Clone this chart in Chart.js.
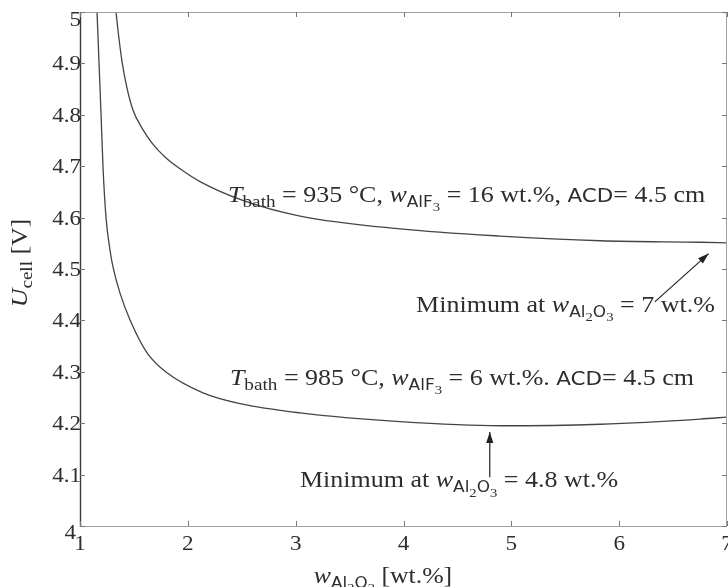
<!DOCTYPE html>
<html><head><meta charset="utf-8">
<script src="https://cdn.jsdelivr.net/npm/chart.js@4.4.0/dist/chart.umd.min.js"></script>
<style>html,body{margin:0;padding:0;background:#fff;}#wrap{width:728px;height:587px;}</style>
</head><body><div id="wrap"><canvas id="c" width="728" height="587"></canvas></div>
<script>
// ---- data ----
const xTicks = [1, 2, 3, 4, 5, 6, 7];
const xTickLabels = ['1', '2', '3', '4', '5', '6', '7'];
const yTicks = [4, 4.1, 4.2, 4.3, 4.4, 4.5, 4.6, 4.7, 4.8, 4.9, 5];
const yTickLabels = ['4', '4.1', '4.2', '4.3', '4.4', '4.5', '4.6', '4.7', '4.8', '4.9', '5'];
// T_bath = 935 °C, w_AlF3 = 16 wt.%
const w935 = [1.334, 1.352, 1.390, 1.436, 1.492, 1.575, 1.668, 1.788, 1.928, 2.113, 2.503, 3.041, 3.968, 4.896, 5.824, 6.751, 7.0];
const u935 = [5.000, 4.965, 4.903, 4.852, 4.809, 4.774, 4.745, 4.718, 4.695, 4.670, 4.634, 4.603, 4.578, 4.564, 4.555, 4.552, 4.551];
// T_bath = 985 °C, w_AlF3 = 6 wt.%
const w985 = [1.158, 1.176, 1.195, 1.213, 1.241, 1.278, 1.306, 1.371, 1.464, 1.622, 1.807, 2.141, 2.484, 3.041, 3.968, 4.896, 5.824, 6.751, 7.0];
const u985 = [5.000, 4.903, 4.802, 4.700, 4.601, 4.537, 4.504, 4.453, 4.401, 4.337, 4.298, 4.259, 4.238, 4.220, 4.203, 4.195, 4.198, 4.208, 4.212];

const toPts = (xs, ys) => xs.map((x, i) => ({x: x, y: ys[i]}));

const SERIF = '"Liberation Serif", "DejaVu Serif", serif';
const SANS = '"DejaVu Sans", "Liberation Sans", sans-serif';
const TXT = '#2e2e2e';

function segFont(kind, S) {
  switch (kind) {
    case 'i': return {font: 'italic ' + S + 'px ' + SERIF, dy: 0};
    case 's': return {font: Math.round(S * 0.72) + 'px ' + SERIF, dy: S * 0.22};
    case 'sf': return {font: Math.round(S * 0.84) + 'px ' + SANS, dy: 0};
    case 'ssf': return {font: Math.round(S * 0.64) + 'px ' + SANS, dy: S * 0.22};
    case 'ss': return {font: Math.round(S * 0.55) + 'px ' + SERIF, dy: S * 0.42};
    default: return {font: S + 'px ' + SERIF, dy: 0};
  }
}
function richWidth(ctx, segs, S) {
  let w = 0;
  segs.forEach(s => { ctx.font = segFont(s[1], S).font; w += ctx.measureText(s[0]).width; });
  return w;
}
// draws text with a horizontal stretch sx (to mimic the wide Computer Modern face)
function drawRich(ctx, segs, x, yc, S, align, sx) {
  sx = sx || 1;
  const total = richWidth(ctx, segs, S) * sx;
  const x0 = align === 'center' ? x - total / 2 : x;
  ctx.save();
  ctx.translate(x0, yc + S * 0.33);
  ctx.scale(sx, 1);
  ctx.textBaseline = 'alphabetic';
  ctx.textAlign = 'left';
  let cx = 0;
  segs.forEach(s => {
    const f = segFont(s[1], S);
    ctx.font = f.font;
    ctx.fillText(s[0], cx, f.dy);
    cx += ctx.measureText(s[0]).width;
  });
  ctx.restore();
}
function arrow(ctx, x1, y1, x2, y2) {
  ctx.beginPath(); ctx.moveTo(x1, y1); ctx.lineTo(x2, y2); ctx.stroke();
  const a = Math.atan2(y2 - y1, x2 - x1), L = 11, H = 3.6;
  ctx.beginPath();
  ctx.moveTo(x2, y2);
  ctx.lineTo(x2 - L * Math.cos(a) + H * Math.sin(a), y2 - L * Math.sin(a) - H * Math.cos(a));
  ctx.lineTo(x2 - L * Math.cos(a) - H * Math.sin(a), y2 - L * Math.sin(a) + H * Math.cos(a));
  ctx.closePath(); ctx.fill();
}

const annotations = [
  {x: 2.373, y: 4.646, segs: [['T', 'i'], ['bath', 's'], [' = 935 °C, ', 'r'], ['w', 'i'], ['AlF', 'ssf'], ['3', 'ss'], [' = 16 wt.%, ', 'r'], ['ACD', 'sf'], ['= 4.5 cm', 'r']]},
  {x: 4.117, y: 4.432, segs: [['Minimum at ', 'r'], ['w', 'i'], ['Al', 'ssf'], ['2', 'ss'], ['O', 'ssf'], ['3', 'ss'], [' = 7 wt.%', 'r']]},
  {x: 2.39, y: 4.29, segs: [['T', 'i'], ['bath', 's'], [' = 985 °C, ', 'r'], ['w', 'i'], ['AlF', 'ssf'], ['3', 'ss'], [' = 6 wt.%. ', 'r'], ['ACD', 'sf'], ['= 4.5 cm', 'r']]},
  {x: 3.04, y: 4.09, segs: [['Minimum at ', 'r'], ['w', 'i'], ['Al', 'ssf'], ['2', 'ss'], ['O', 'ssf'], ['3', 'ss'], [' = 4.8 wt.%', 'r']]}
];
const arrows = [
  {x1: 6.33, y1: 4.436, x2: 6.83, y2: 4.530},
  {x1: 4.80, y1: 4.095, x2: 4.80, y2: 4.183}
];

const framePlugin = {
  id: 'frame',
  afterDraw(chart) {
    const ctx = chart.ctx, a = chart.chartArea;
    const xs = chart.scales.x, ys = chart.scales.y;
    ctx.save();
    // frame
    ctx.lineWidth = 1;
    ctx.strokeStyle = '#a0a0a0';
    ctx.beginPath();
    ctx.moveTo(a.left, a.top + 0.5); ctx.lineTo(a.right, a.top + 0.5);
    ctx.moveTo(a.left, a.bottom + 0.5); ctx.lineTo(a.right, a.bottom + 0.5);
    ctx.moveTo(a.right - 0.5, a.top); ctx.lineTo(a.right - 0.5, a.bottom);
    ctx.stroke();
    ctx.strokeStyle = '#3a3a3a';
    ctx.lineWidth = 1.4;
    ctx.beginPath(); ctx.moveTo(a.left + 0.5, a.top); ctx.lineTo(a.left + 0.5, a.bottom + 1); ctx.stroke();
    // inward ticks
    ctx.lineWidth = 1; ctx.strokeStyle = '#777';
    const T = 5;
    ctx.beginPath();
    xTicks.forEach(v => {
      const p = Math.round(xs.getPixelForValue(v)) + 0.5;
      ctx.moveTo(p, a.bottom); ctx.lineTo(p, a.bottom - T);
      ctx.moveTo(p, a.top); ctx.lineTo(p, a.top + T);
    });
    yTicks.forEach(v => {
      const p = Math.round(ys.getPixelForValue(v)) + 0.5;
      ctx.moveTo(a.left, p); ctx.lineTo(a.left + T, p);
      ctx.moveTo(a.right, p); ctx.lineTo(a.right - T, p);
    });
    ctx.stroke();
    // tick labels
    ctx.fillStyle = TXT;
    const TS = 21, TSX = 1.1;
    yTicks.forEach((v, i) => {
      let p = ys.getPixelForValue(v);
      let xr = a.left + 1;
      if (i === 0) { p += 6; xr = a.left - 4; }
      if (i === yTicks.length - 1) { p += 7; }
      ctx.font = TS + 'px ' + SERIF;
      const w = ctx.measureText(yTickLabels[i]).width * TSX;
      drawRich(ctx, [[yTickLabels[i], 'r']], xr - w, p, TS, 'left', TSX);
    });
    xTicks.forEach((v, i) => {
      drawRich(ctx, [[xTickLabels[i], 'r']], xs.getPixelForValue(v), a.bottom + 17, TS, 'center', TSX);
    });
    // axis titles
    drawRich(ctx, [['w', 'i'], ['Al', 'ssf'], ['2', 'ss'], ['O', 'ssf'], ['3', 'ss'], [' [wt.%]', 'r']], 383, 575, 23, 'center', 1.12);
    ctx.save();
    ctx.translate(19, 263);
    ctx.rotate(-Math.PI / 2);
    drawRich(ctx, [['U', 'i'], ['cell', 's'], [' [V]', 'r']], 0, 0, 23, 'center', 1.12);
    ctx.restore();
    // annotations
    annotations.forEach(an => {
      drawRich(ctx, an.segs, xs.getPixelForValue(an.x), ys.getPixelForValue(an.y), 23, 'left', 1.13);
    });
    ctx.strokeStyle = '#222'; ctx.fillStyle = '#222'; ctx.lineWidth = 1.2;
    arrows.forEach(ar => {
      arrow(ctx, xs.getPixelForValue(ar.x1), ys.getPixelForValue(ar.y1), xs.getPixelForValue(ar.x2), ys.getPixelForValue(ar.y2));
    });
    ctx.restore();
  }
};

new Chart(document.getElementById('c'), {
  type: 'line',
  data: {
    datasets: [
      {label: '935 °C', data: toPts(w935, u935), borderColor: '#444', borderWidth: 1.3, pointRadius: 0, fill: false, cubicInterpolationMode: 'monotone'},
      {label: '985 °C', data: toPts(w985, u985), borderColor: '#444', borderWidth: 1.3, pointRadius: 0, fill: false, cubicInterpolationMode: 'monotone'}
    ]
  },
  options: {
    responsive: false,
    animation: false,
    devicePixelRatio: 1,
    layout: {padding: {left: 0, top: 12, right: 1, bottom: 0}},
    plugins: {legend: {display: false}, tooltip: {enabled: false}},
    scales: {
      x: {type: 'linear', min: 1, max: 7, ticks: {display: false}, grid: {display: false}, border: {display: false},
          afterFit(s) { s.height = 61; }},
      y: {type: 'linear', min: 4, max: 5, ticks: {display: false}, grid: {display: false}, border: {display: false},
          afterFit(s) { s.width = 80; }}
    }
  },
  plugins: [framePlugin]
});
</script></body></html>
